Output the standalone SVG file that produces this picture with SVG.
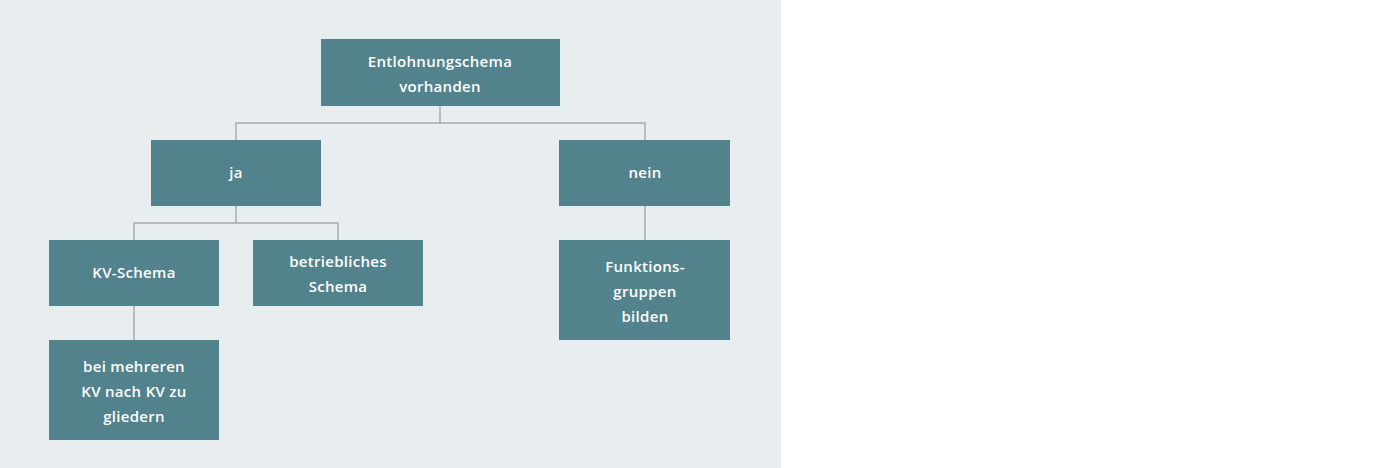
<svg xmlns="http://www.w3.org/2000/svg" width="1400" height="468" viewBox="0 0 1400 468">
<style>
.n{fill:#52838c}
.t{fill:#fff;font-family:"Open Sans",sans-serif;font-size:15px;font-weight:600;text-anchor:middle;letter-spacing:0.3px}
.c{stroke:#aaaaaa;stroke-width:1.5;fill:none}
</style>
<rect x="0" y="0" width="781" height="468" fill="#e8edf0"/>
<g id="connectors">
<path class="c" d="M440 106V123M236 140V123H645V140"/>
<path class="c" d="M236 206V223M134 240V223H338V240"/>
<path class="c" d="M645 206V240"/>
<path class="c" d="M134 306V340"/>
</g>
<g id="n1"><rect class="n" x="321" y="39" width="239" height="67"/><text class="t" x="440" y="67">Entlohnungschema</text><text class="t" x="440" y="92">vorhanden</text></g>
<g id="n2"><rect class="n" x="151" y="140" width="170" height="66"/><text class="t" x="236" y="178">ja</text></g>
<g id="n3"><rect class="n" x="559" y="140" width="171" height="66"/><text class="t" x="645" y="178">nein</text></g>
<g id="n4"><rect class="n" x="49" y="240" width="170" height="66"/><text class="t" x="134" y="278">KV-Schema</text></g>
<g id="n5"><rect class="n" x="253" y="240" width="170" height="66"/><text class="t" x="338" y="267">betriebliches</text><text class="t" x="338" y="292">Schema</text></g>
<g id="n6"><rect class="n" x="559" y="240" width="171" height="100"/><text class="t" x="645" y="272">Funktions-</text><text class="t" x="645" y="297">gruppen</text><text class="t" x="645" y="322">bilden</text></g>
<g id="n7"><rect class="n" x="49" y="340" width="170" height="100"/><text class="t" x="134" y="372">bei mehreren</text><text class="t" x="134" y="397">KV nach KV zu</text><text class="t" x="134" y="422">gliedern</text></g>
</svg>
